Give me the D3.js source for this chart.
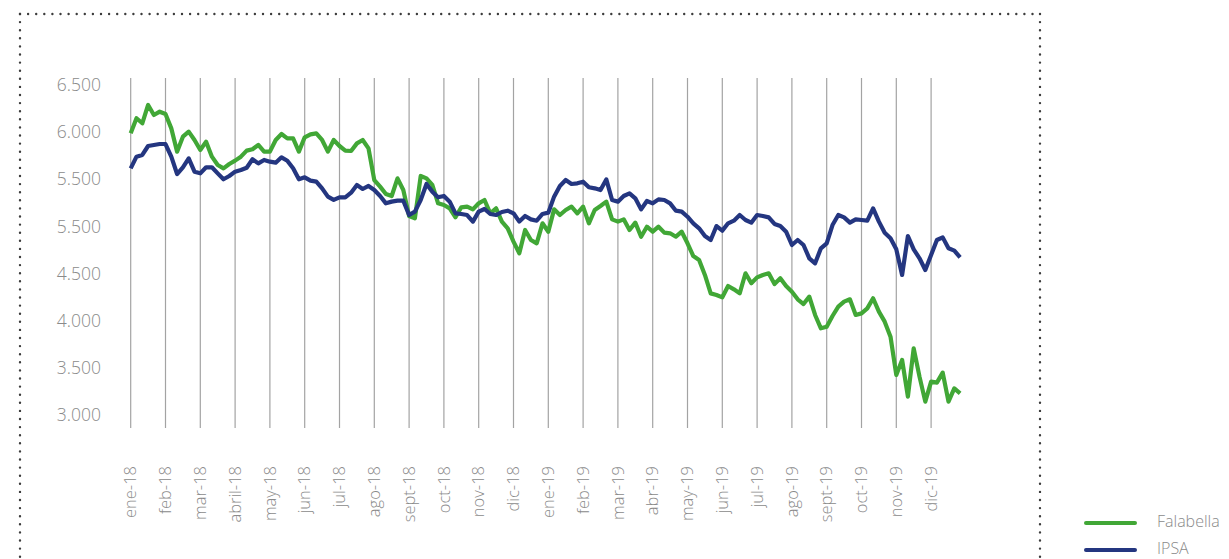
<!DOCTYPE html>
<html>
<head>
<meta charset="utf-8">
<script src="https://cdn.jsdelivr.net/npm/d3@7"></script>
<style>
    body { margin: 0; background: #fff; }
    .tick-label { font-family: "Open Sans", sans-serif; font-weight: 300; fill: #8a8a8a; }
</style>
</head>
<body>
<div class="chart"></div>
<script>
// month labels, one per gridline
let months = ['ene-18', 'feb-18', 'mar-18', 'abril-18', 'may-18', 'jun-18', 'jul-18', 'ago-18',
    'sept-18', 'oct-18', 'nov-18', 'dic-18', 'ene-19', 'feb-19', 'mar-19', 'abr-19', 'may-19',
    'jun-19', 'jul-19', 'ago-19', 'sept-19', 'oct-19', 'nov-19', 'dic-19'];

// y ticks and the labels as printed on the original
let yTicks = [3000, 3500, 4000, 4500, 5000, 5500, 6000, 6500];
let yLabels = ['3.000', '3.500', '4.000', '4.500', '5.500', '5.500', '6.000', '6.500'];

// 6 readings per month
let pointsPerMonth = 6;

let falabella = [
    5987, 6147, 6094, 6288, 6182, 6217,
    6192, 6040, 5793, 5952, 6005, 5917,
    5811, 5899, 5740, 5652, 5616, 5662,
    5698, 5740, 5804, 5818, 5864, 5793,
    5793, 5917, 5980, 5934, 5934, 5793,
    5945, 5977, 5987, 5917, 5793, 5917,
    5853, 5804, 5800, 5881, 5917, 5828,
    5492, 5422, 5344, 5323, 5510, 5387,
    5111, 5086, 5535, 5510, 5440, 5245,
    5227, 5192, 5097, 5203, 5210, 5181,
    5245, 5280, 5139, 5192, 5051, 4980,
    4839, 4715, 4962, 4856, 4821, 5033,
    4944, 5181, 5121, 5174, 5210, 5139,
    5210, 5033, 5174, 5217, 5263, 5075,
    5051, 5075, 4962, 5040, 4891, 4997,
    4944, 4997, 4934, 4927, 4891, 4944,
    4821, 4686, 4644, 4485, 4290, 4273,
    4248, 4368, 4333, 4290, 4503, 4397,
    4460, 4485, 4503, 4389, 4450, 4368,
    4308, 4227, 4177, 4255, 4061, 3919,
    3937, 4050, 4149, 4202, 4227, 4061,
    4078, 4131, 4238, 4096, 3990, 3831,
    3424, 3584, 3195, 3707, 3407, 3142,
    3354, 3343, 3449, 3142, 3283, 3230
];

let ipsa = [
    5616, 5740, 5758, 5853, 5864, 5874,
    5874, 5740, 5556, 5627, 5722, 5581,
    5563, 5627, 5627, 5563, 5500, 5535,
    5581, 5599, 5623, 5712, 5669, 5705,
    5687, 5676, 5733, 5697, 5616, 5500,
    5521, 5486, 5475, 5404, 5316, 5281,
    5309, 5309, 5358, 5439, 5397, 5429,
    5386, 5323, 5245, 5263, 5273, 5273,
    5121, 5157, 5280, 5450, 5369, 5309,
    5323, 5263, 5139, 5132, 5121, 5051,
    5157, 5185, 5132, 5121, 5153, 5167,
    5139, 5051, 5111, 5075, 5061, 5132,
    5146, 5316, 5429, 5492, 5450, 5457,
    5475, 5415, 5404, 5386, 5499, 5280,
    5263, 5323, 5351, 5298, 5181, 5270,
    5245, 5287, 5280, 5245, 5167, 5157,
    5103, 5033, 4980, 4898, 4856, 5004,
    4955, 5033, 5061, 5121, 5068, 5040,
    5121, 5111, 5096, 5026, 5005, 4944,
    4803, 4856, 4803, 4662, 4609, 4768,
    4821, 5015, 5121, 5096, 5040, 5075,
    5068, 5061, 5192, 5051, 4934, 4874,
    4757, 4485, 4898, 4757, 4662, 4538,
    4697, 4856, 4884, 4768, 4743, 4672
];

let series = [
    { name: 'Falabella', values: falabella, color: '#41a736' },
    { name: 'IPSA', values: ipsa, color: '#243680' }
];

let w = 1229, h = 559;

let svg = d3.select('.chart')
    .append('svg')
    .attr('width', w)
    .attr('height', h);

// dotted frame (top, left, right)
let frame = svg.append('g')
    .attr('fill', 'none')
    .attr('stroke', '#3c3c3c')
    .attr('stroke-width', 2.4)
    .attr('stroke-linecap', 'round')
    .attr('stroke-dasharray', '0,8.1');
frame.append('path').attr('d', 'M20,14H1040');
frame.append('path').attr('d', 'M20,14V559');
frame.append('path').attr('d', 'M1040,14V559');

let xScale = d3.scaleLinear()
    .domain([0, months.length])
    .range([130.7, 130.7 + 34.8 * months.length]);

let yScale = d3.scaleLinear()
    .domain([3000, 6500])
    .range([415, 85]);

// vertical gridlines at each month start
svg.append('g')
    .selectAll('line')
    .data(months)
    .enter()
    .append('line')
    .attr('x1', (d, i) => xScale(i))
    .attr('x2', (d, i) => xScale(i))
    .attr('y1', 78)
    .attr('y2', 428)
    .attr('stroke', '#a3a3a3')
    .attr('stroke-width', 1.2);

// y axis labels
let yAxis = d3.axisLeft(yScale)
    .tickValues(yTicks)
    .tickFormat((d, i) => yLabels[i])
    .tickSize(0)
    .tickPadding(0);

let yg = svg.append('g')
    .attr('transform', 'translate(101,0)')
    .call(yAxis);
yg.select('.domain').remove();
yg.selectAll('text')
    .attr('class', 'tick-label')
    .style('font-size', '17.5px');

// x axis labels, rotated
svg.append('g')
    .selectAll('text')
    .data(months)
    .enter()
    .append('text')
    .attr('class', 'tick-label')
    .attr('transform', (d, i) => 'translate(' + xScale(i) + ',466) rotate(-90)')
    .attr('text-anchor', 'end')
    .attr('dy', '0.35em')
    .style('font-size', '16.5px')
    .text(d => d);

let line = d3.line()
    .x((d, i) => xScale(i / pointsPerMonth))
    .y(d => yScale(d));

svg.append('g')
    .selectAll('path')
    .data(series)
    .enter()
    .append('path')
    .attr('fill', 'none')
    .attr('stroke', d => d.color)
    .attr('stroke-width', 4.2)
    .attr('stroke-linejoin', 'round')
    .attr('d', d => line(d.values));

// legend
let legend = svg.append('g')
    .selectAll('g')
    .data(series)
    .enter()
    .append('g')
    .attr('transform', (d, i) => 'translate(1086,' + (523 + i * 27) + ')');
legend.append('line')
    .attr('x1', 0)
    .attr('x2', 49)
    .attr('stroke', d => d.color)
    .attr('stroke-width', 4)
    .attr('stroke-linecap', 'round');
legend.append('text')
    .attr('class', 'tick-label')
    .attr('x', 71)
    .attr('dy', '0.22em')
    .style('font-size', '16px')
    .text(d => d.name);
</script>
</body>
</html>
